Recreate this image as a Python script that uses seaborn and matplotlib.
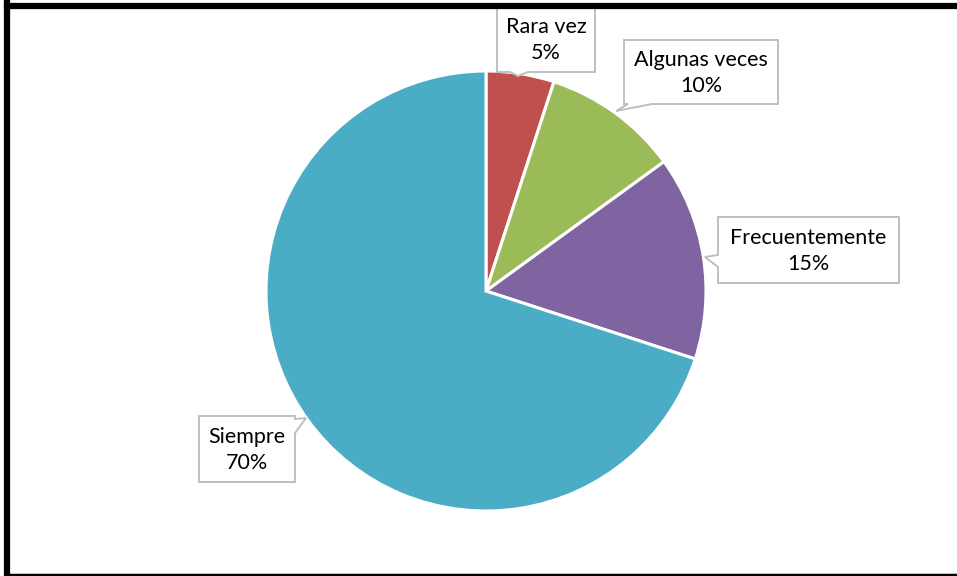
import matplotlib
matplotlib.use('Agg')
import matplotlib.pyplot as plt
from matplotlib.patches import Polygon
from matplotlib.lines import Line2D
import seaborn as sns

sns.set_theme(style='white')
plt.rcParams['font.family'] = ['Lato', 'DejaVu Sans']

# data
categories = ['Rara vez', 'Algunas veces', 'Frecuentemente', 'Siempre']
percents = [5, 10, 15, 70]
slice_colors = ['#C0504D', '#9BBB59', '#8064A2', '#4BACC6']

W, H = 957, 576
fig = plt.figure(figsize=(W / 100, H / 100), dpi=100)
ax = fig.add_axes([0, 0, 1, 1])

def py(y):
    # pixel row -> data y
    return H - y

cx, cy, r = 486, 291, 220
ax.pie(percents, colors=sns.color_palette(slice_colors), startangle=90,
       counterclock=False, center=(cx, py(cy)), radius=r,
       wedgeprops=dict(edgecolor='white', linewidth=2.2), frame=True)
ax.set_xlim(0, W)
ax.set_ylim(0, H)
ax.set_aspect('equal')
ax.axis('off')

# callout boxes: (x0, y0, x1, y1), side of pointer, base span, tip
callouts = [
    ((497, 6, 595, 72), 'bottom', (510, 528), (518, 76)),
    ((624, 40, 778, 104), 'bottom', (628, 652), (616, 111)),
    ((718, 217, 899, 283), 'left', (255, 267), (705, 257)),
    ((199, 416, 295, 482), 'right', (419, 433), (306, 418)),
]

def callout_verts(box, side, span, tip):
    x0, y0, x1, y1 = box
    a, b = span
    if side == 'bottom':
        pts = [(x0, y0), (x1, y0), (x1, y1), (b, y1), tip, (a, y1), (x0, y1)]
    elif side == 'left':
        pts = [(x0, y0), (x1, y0), (x1, y1), (x0, y1), (x0, b), tip, (x0, a)]
    else:
        pts = [(x0, y0), (x1, y0), (x1, a), tip, (x1, b), (x1, y1), (x0, y1)]
    return [(x, py(y)) for x, y in pts]

for (box, side, span, tip), cat, pct in zip(callouts, categories, percents):
    ax.add_patch(Polygon(callout_verts(box, side, span, tip), closed=True,
                         facecolor='white', edgecolor='#BFBFBF', lw=1.4, zorder=5))
    x0, y0, x1, y1 = box
    ax.text((x0 + x1) / 2, py((y0 + y1) / 2 + 1), f'{cat}\n{pct}%', ha='center',
            va='center', fontsize=15.5, color='#000000', linespacing=1.35, zorder=6)

# outer frame
fig.add_artist(Line2D([7 / W, 7 / W], [0, 1 - 3 / H], transform=fig.transFigure,
                      color='black', lw=4.5, solid_capstyle='projecting'))
fig.add_artist(Line2D([7 / W, 1], [1 - 6 / H, 1 - 6 / H], transform=fig.transFigure,
                      color='black', lw=4.5, solid_capstyle='projecting'))
fig.add_artist(Line2D([7 / W, 1], [1.5 / H, 1.5 / H], transform=fig.transFigure,
                      color='black', lw=2.5))

fig.savefig('out.png', dpi=100, facecolor='white')
